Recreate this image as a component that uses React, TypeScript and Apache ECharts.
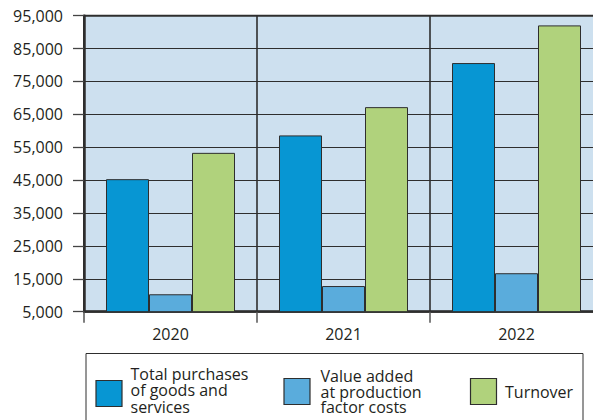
import React, { useEffect, useRef } from "react";
import * as echarts from "echarts";

const categories = ["2020", "2021", "2022"];
const totalPurchases = [45300, 58600, 80600];
const valueAdded = [10300, 12800, 16700];
const turnover = [53300, 67200, 92050];
const seriesNames = [
  ["Total purchases", "of goods and", "services"],
  ["Value added", "at production", "factor costs"],
  ["Turnover"],
];
const Y_MIN = 5000;
const Y_MAX = 95000;
const Y_STEP = 10000;

const COLORS = ["#0796d3", "#5aacdc", "#b0d27c"];
const DARK = "#2e2e2e";
const TEXT = "#231f20";
const FONT = "Open Sans";

export default function App() {
  const ref = useRef<HTMLDivElement>(null);
  useEffect(() => {
    if (!ref.current) return;
    const chart = echarts.init(ref.current, null, { renderer: "svg" });
    const barStyle = (c: string) => ({ color: c, borderColor: DARK, borderWidth: 1 });
    const legendItems = [
      { x: 96, y: 380.5, tx: 130.5, baselines: [379.5, 395.5, 412.5] },
      { x: 284, y: 378.5, tx: 320.5, baselines: [381.5, 397, 412.5] },
      { x: 470.5, y: 378.5, tx: 505, baselines: [397] },
    ];
    const graphics: any[] = [
      {
        type: "rect",
        shape: { x: 86, y: 353.5, width: 497, height: 90 },
        style: { fill: "none", stroke: DARK, lineWidth: 1 },
        z: 10,
      },
    ];
    legendItems.forEach((it, i) => {
      graphics.push({
        type: "rect",
        shape: { x: it.x, y: it.y, width: 26, height: 26 },
        style: { fill: COLORS[i], stroke: DARK, lineWidth: 1.2 },
        z: 10,
      });
      seriesNames[i].forEach((line, j) => {
        graphics.push({
          type: "text",
          x: it.tx,
          y: it.baselines[j] - 5.5,
          style: {
            text: line,
            fill: TEXT,
            fontSize: 16,
            fontFamily: FONT,
            verticalAlign: "middle",
            align: "left",
          },
          z: 10,
        });
      });
    });

    chart.setOption({
      animation: false,
      textStyle: { fontFamily: FONT },
      grid: {
        left: 84,
        top: 15.7,
        width: 519,
        bottom: 108.3,
        outerBoundsMode: "none",
        show: true,
        backgroundColor: "#cde0ef",
        borderColor: DARK,
        borderWidth: 2,
        containLabel: false,
      },
      xAxis: {
        type: "category",
        data: categories,
        axisLine: { show: true, lineStyle: { color: DARK, width: 2.5 } },
        axisTick: { show: true, length: 11, lineStyle: { color: "#555", width: 1.5 } },
        splitLine: { show: true, lineStyle: { color: DARK, width: 1.6 } },
        axisLabel: { color: TEXT, fontSize: 16, fontFamily: FONT, margin: 14 },
      },
      yAxis: [
        {
          type: "value",
          min: 0,
          max: Y_MAX - Y_MIN,
          interval: Y_STEP,
          axisLine: { show: true, lineStyle: { color: DARK, width: 2.5 } },
          axisTick: { show: true, length: 11, lineStyle: { color: "#444", width: 1.3 } },
          splitLine: { show: true, lineStyle: { color: DARK, width: 1 } },
          axisLabel: {
            color: TEXT,
            fontSize: 16,
            fontFamily: FONT,
            margin: 21,
            formatter: (v: number) => (v + Y_MIN).toLocaleString("en-US"),
          },
        },
        {
          type: "value",
          min: Y_MIN,
          max: Y_MAX,
          show: false,
          splitLine: { show: false },
        },
      ],
      graphic: graphics,
      series: [
        { name: "Total purchases", type: "bar", yAxisIndex: 1, data: totalPurchases, barWidth: 43, barGap: "0%", itemStyle: barStyle(COLORS[0]) },
        { name: "Value added", type: "bar", yAxisIndex: 1, data: valueAdded, barWidth: 43, barGap: "0%", itemStyle: barStyle(COLORS[1]) },
        { name: "Turnover", type: "bar", yAxisIndex: 1, data: turnover, barWidth: 43, barGap: "0%", itemStyle: barStyle(COLORS[2]) },
      ],
    });
    return () => chart.dispose();
  }, []);
  return (
    <div
      ref={ref}
      style={{ position: "fixed", left: 0, top: 0, width: 593, height: 420, background: "#fff" }}
    />
  );
}
